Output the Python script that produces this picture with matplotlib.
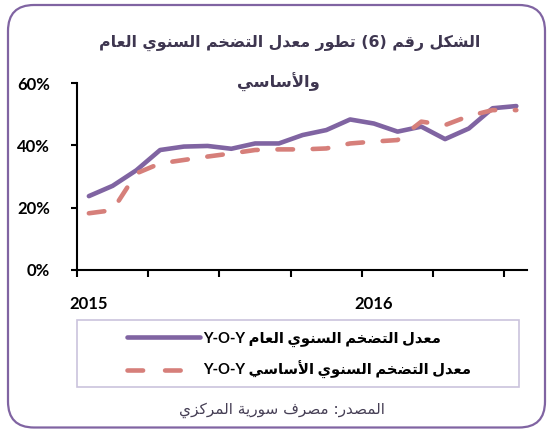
import numpy as np
import matplotlib
matplotlib.use('Agg')
import matplotlib.pyplot as plt
import matplotlib.patches as mpatches
from matplotlib.lines import Line2D
from matplotlib.transforms import IdentityTransform

# monthly data, Jan 2015 .. Jul 2016
months = list(range(19))
headline = [23.7, 27.0, 32.0, 38.5, 39.6, 39.8, 38.9, 40.6, 40.6, 43.3,
            44.9, 48.3, 47.0, 44.4, 46.0, 42.0, 45.4, 51.9, 52.6]
core = [18.2, 19.2, 31.0, 34.2, 35.3, 36.4, 37.4, 38.5, 38.7, 38.7,
        39.0, 40.6, 41.2, 41.7, 47.6, 46.5, 49.4, 51.3, 51.3]
year_pos = [0, 12]
year_labels = ['2015', '2016']
y_ticks = [0, 20, 40, 60]

title1 = 'الشكل رقم (6) تطور معدل التضخم السنوي العام'
title2 = 'والأساسي'
label_headline = 'معدل التضخم السنوي العام Y-O-Y'
label_core = 'معدل التضخم السنوي الأساسي Y-O-Y'
source = 'المصدر: مصرف سورية المركزي'

# --- tiny arabic shaper (matplotlib has no complex text layout) ---
FORMS = {
    'ا': ('\uFE8D', '\uFE8E', None, None),
    'أ': ('\uFE83', '\uFE84', None, None),
    'ة': ('\uFE93', '\uFE94', None, None),
    'ت': ('\uFE95', '\uFE96', '\uFE97', '\uFE98'),
    'خ': ('\uFEA5', '\uFEA6', '\uFEA7', '\uFEA8'),
    'د': ('\uFEA9', '\uFEAA', None, None),
    'ر': ('\uFEAD', '\uFEAE', None, None),
    'ز': ('\uFEAF', '\uFEB0', None, None),
    'س': ('\uFEB1', '\uFEB2', '\uFEB3', '\uFEB4'),
    'ش': ('\uFEB5', '\uFEB6', '\uFEB7', '\uFEB8'),
    'ص': ('\uFEB9', '\uFEBA', '\uFEBB', '\uFEBC'),
    'ض': ('\uFEBD', '\uFEBE', '\uFEBF', '\uFEC0'),
    'ط': ('\uFEC1', '\uFEC2', '\uFEC3', '\uFEC4'),
    'ع': ('\uFEC9', '\uFECA', '\uFECB', '\uFECC'),
    'ف': ('\uFED1', '\uFED2', '\uFED3', '\uFED4'),
    'ق': ('\uFED5', '\uFED6', '\uFED7', '\uFED8'),
    'ك': ('\uFED9', '\uFEDA', '\uFEDB', '\uFEDC'),
    'ل': ('\uFEDD', '\uFEDE', '\uFEDF', '\uFEE0'),
    'م': ('\uFEE1', '\uFEE2', '\uFEE3', '\uFEE4'),
    'ن': ('\uFEE5', '\uFEE6', '\uFEE7', '\uFEE8'),
    'و': ('\uFEED', '\uFEEE', None, None),
    'ي': ('\uFEF1', '\uFEF2', '\uFEF3', '\uFEF4'),
}
LAM_ALEF = {'ا': ('\uFEFB', '\uFEFC'), 'أ': ('\uFEF7', '\uFEF8')}


def shape(text):
    chars = list(text)
    n = len(chars)
    res = []
    i = 0
    while i < n:
        c = chars[i]
        if c not in FORMS:
            res.append(c)
            i += 1
            continue
        prev = chars[i - 1] if i > 0 else None
        prev_joins = prev in FORMS and FORMS[prev][2] is not None
        if c == 'ل' and i + 1 < n and chars[i + 1] in LAM_ALEF:
            iso, fin = LAM_ALEF[chars[i + 1]]
            res.append(fin if prev_joins else iso)
            i += 2
            continue
        nxt = chars[i + 1] if i + 1 < n else None
        iso, fin, ini, med = FORMS[c]
        can_next = ini is not None and nxt in FORMS
        if prev_joins and can_next:
            res.append(med)
        elif prev_joins:
            res.append(fin)
        elif can_next:
            res.append(ini)
        else:
            res.append(iso)
        i += 1
    return ''.join(res)[::-1].translate(str.maketrans('()', ')('))


FAM = ['Lato', 'DejaVu Sans']
purple = '#8064A2'
pink = '#D67F7A'
W, H = 547, 429

fig = plt.figure(figsize=(W / 100, H / 100), dpi=100)
ax = fig.add_axes([77 / W, 1 - 270 / H, 450 / W, 187 / H])

ax.plot(months, headline, color=purple, lw=3.3, solid_capstyle='round',
        solid_joinstyle='round')
ax.plot(months, core, color=pink, lw=3.3, dashes=(3.4, 4.3),
        dash_capstyle='round', dash_joinstyle='round')

ax.set_xlim(-0.5, 18.45)
ax.set_ylim(0, 60)
for s in ['top', 'right']:
    ax.spines[s].set_visible(False)
for s in ['left', 'bottom']:
    ax.spines[s].set_linewidth(1.5)

ax.set_yticks(y_ticks)
ax.set_yticklabels([f'{v}%' for v in y_ticks], fontfamily=FAM,
                   fontweight='bold', fontsize=12)
ax.tick_params(axis='y', length=4.5, width=1.5, pad=15)

ax.set_xticks(np.arange(-0.5, 18.5, 3))
ax.set_xticklabels([])
ax.tick_params(axis='x', which='major', length=5, width=1.5)
ax.set_xticks(year_pos, minor=True)
ax.set_xticklabels(year_labels, minor=True, fontfamily=FAM,
                   fontweight='bold', fontsize=12)
ax.tick_params(axis='x', which='minor', length=0, pad=19)

# legend
handles = [Line2D([], [], color=purple, lw=3.3, solid_capstyle='round'),
           Line2D([], [], color=pink, lw=3.3, dashes=(3.4, 4.8),
                  dash_capstyle='round')]
leg = fig.legend(handles, [shape(label_headline), shape(label_core)],
                 loc='upper left', bbox_to_anchor=(120 / W, 1 - 324 / H),
                 frameon=False, borderpad=0, handlelength=4.9,
                 handletextpad=0.25, labelspacing=0.98,
                 prop={'family': FAM, 'weight': 'bold', 'size': 10.6})
fig.patches.append(mpatches.Rectangle((77, H - 387), 442, 67, fill=False,
                                      edgecolor='#CBC3DD', lw=1.2,
                                      transform=IdentityTransform(),
                                      figure=fig))

# titles and source
fig.text(290 / W, 1 - 43 / H, shape(title1), ha='center', va='center',
         fontsize=11.3, fontweight='bold', color='#3E3650',
         fontfamily=['DejaVu Sans'])
fig.text(278 / W, 1 - 82 / H, shape(title2), ha='center', va='center',
         fontsize=11.8, fontweight='bold', color='#3E3650',
         fontfamily=['DejaVu Sans'])
fig.text(282 / W, 1 - 410 / H, shape(source), ha='center', va='center',
         fontsize=11, color='#463F55', fontfamily=['DejaVu Sans'])

# rounded outer frame
fig.patches.append(mpatches.FancyBboxPatch(
    (8, 1.5), 537, 422.5, boxstyle='round,pad=0,rounding_size=26',
    fill=False, edgecolor=purple, lw=1.6, transform=IdentityTransform(),
    figure=fig))

fig.savefig('out.png', dpi=100)
